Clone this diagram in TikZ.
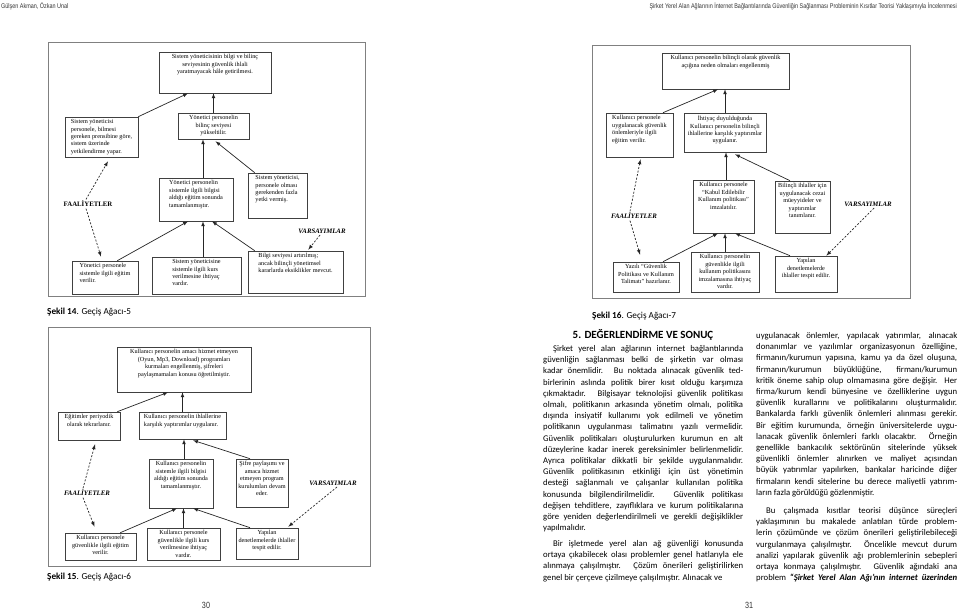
\documentclass[tikz,border=0pt]{standalone}
\usepackage{fontspec}
\setmainfont{Liberation Serif}
\newfontfamily\govde{Carlito}
\newfontfamily\dar[FakeStretch=0.8]{Liberation Sans}
\usetikzlibrary{positioning}

\definecolor{cizgi}{gray}{0.25}
\definecolor{cerceverengi}{gray}{0.5}

% kutu icindeki satirlar: ust hizali, ortali ya da sola dayali
\newcommand{\ortayazi}[2]{\vbox to #1pt{\let\\\cr\halign{\hfil##\hfil\cr#2\crcr}\vfil}}
\newcommand{\solyazi}[2]{\vbox to #1pt{\let\\\cr\halign{##\hfil\cr#2\crcr}\vfil}}

\tolerance=10000
\hyphenpenalty=10000

\tikzset{
  kutu/.style={draw=cizgi, line width=0.6pt, inner xsep=2pt, inner ysep=2.5pt,
    font=\fontsize{6.2}{7.4}\selectfont},
  ok/.style={-latex, line width=0.7pt, draw=black!85},
  kesik/.style={-latex, line width=0.7pt, draw=black!85, dash pattern=on 2pt off 1.6pt},
  cerceve/.style={draw=cerceverengi, line width=1pt},
  etiket/.style={inner sep=1.5pt, font=\fontsize{6.8}{8}\selectfont\bfseries},
  etiketi/.style={inner sep=1.5pt, font=\fontsize{6.8}{8}\selectfont\bfseries\itshape},
  altyazi/.style={anchor=west, inner sep=0pt, font=\govde\fontsize{9.2}{11}\selectfont},
  ustbilgi/.style={inner sep=0pt, font=\dar\fontsize{6.8}{8}\selectfont, text=black!80},
  govdemetin/.style={anchor=base west, inner sep=0pt, align=justify,
    font=\govde\fontsize{8.7}{11.2}\selectfont, text=black}
}

\begin{document}
\begin{tikzpicture}[x=1pt,y=-1pt]
\useasboundingbox (0,0) rectangle (960,609);
\fill[white] (0,0) rectangle (960,609);

% sayfa basliklari
\node[ustbilgi, anchor=west] (yazar) at (1,6) {Gülşen Akman, Özkan Unal};
\node[ustbilgi, anchor=east] (makale) at (957,6) {Şirket Yerel Alan Ağlarının İnternet Bağlantılarında Güvenliğin Sağlanması Probleminin Kısıtlar Teorisi Yaklaşımıyla İncelenmesi};

% Sekil 14
\draw[cerceve] (48,43) rectangle (365,297);
\node[kutu, minimum width=112] (a1) at (215,72.5) {\ortayazi{36}{Sistem yöneticisinin bilgi ve bilinç\\seviyesinin güvenlik ihlali\\yaratmayacak hâle getirilmesi.}};
\node[kutu, minimum width=73] (a2) at (101.5,137) {\solyazi{35}{Sistem yöneticisi\\personele, bilmesi\\gereken prensibine göre,\\sistem üzerinde\\yetkilendirme yapar.}};
\node[kutu, minimum width=71] (a3) at (213.5,126) {\ortayazi{21}{Yönetici personelin\\bilinç seviyesi\\yükseltilir.}};
\node[kutu, minimum width=74] (a4) at (196,199.5) {\solyazi{38}{Yönetici personelin\\sistemle ilgili bilgisi\\aldığı eğitim sonunda\\tamamlanmıştır.}};
\node[kutu, minimum width=59] (a5) at (277.5,195.5) {\solyazi{40}{Sistem yöneticisi,\\personele olması\\gerekenden fazla\\yetki vermiş.}};
\node[kutu, minimum width=66] (a6) at (105,277.5) {\solyazi{28}{Yönetici personele\\sistemle ilgili eğitim\\verilir.}};
\node[kutu, minimum width=89] (a7) at (196.5,275.5) {\solyazi{32}{Sistem yöneticisine\\sistemle ilgili kurs\\verilmesine ihtiyaç\\vardır.}};
\node[kutu, minimum width=95] (a8) at (295.5,272) {\solyazi{37}{Bilgi seviyesi artırılmış;\\ancak bilinçli yönetimsel\\kararlarda eksiklikler mevcut.}};
\node[etiket] (f1) at (88,204) {FAALİYETLER};
\node[etiketi] (v1) at (322,231) {VARSAYIMLAR};
\draw[ok] (a2.north east) -- ([xshift=-27]a1.south);
\draw[ok] (a3.north) -- (a3.north |- a1.south);
\draw[ok] ([xshift=7]a4.north) -- ([xshift=7]a4.north |- a3.south);
\draw[ok] ([xshift=7]a5.north west) -- ([xshift=2,yshift=-2]a3.south);
\draw[ok] ([xshift=-21]a6.north east) -- ([xshift=-8]a4.south);
\draw[ok] ([xshift=6.5]a7.north) -- ([xshift=6.5]a7.north |- a4.south);
\draw[ok] ([xshift=7]a8.north west) -- ([xshift=16]a4.south);
\draw[kesik] ([xshift=-2]f1.north) -- ([xshift=6.5,yshift=-4]a2.south);
\draw[kesik] ([xshift=-2]f1.south) -- ([xshift=-4,yshift=4]a6.north);
\draw[kesik] ([xshift=-2]v1.south) -- ([xshift=-35,yshift=1]a8.north east);
\node[altyazi] (sekil14) at (47,312) {\textbf{Şekil 14}. Geçiş Ağacı-5};

% Sekil 16
\draw[cerceve] (592,46) rectangle (910,299);
\node[kutu, minimum width=127] (b1) at (725.5,71) {\ortayazi{31}{Kullanıcı personelin bilinçli olarak güvenlik\\açığına neden olmaları engellenmiş}};
\node[kutu, minimum width=67] (b2) at (639.5,135) {\solyazi{39}{Kullanıcı personele\\uygulanacak güvenlik\\önlemleriyle ilgili\\eğitim verilir.}};
\node[kutu, minimum width=82] (b3) at (725,132.5) {\ortayazi{34}{İhtiyaç duyulduğunda\\Kullanıcı personelin bilinçli\\ihlallerine karşılık yaptırımlar\\uygulanır.}};
\node[kutu, minimum width=61] (b4) at (723.5,206.5) {\ortayazi{48}{Kullanıcı personele\\“Kabul Edilebilir\\Kullanım politikası”\\imzalatılır.}};
\node[kutu, minimum width=55] (b5) at (802.5,207) {\ortayazi{47}{Bilinçli ihlaller için\\uygulanacak cezai\\müeyyideler ve\\yaptırımlar\\tanımlanır.}};
\node[kutu, minimum width=66] (b6) at (646,277) {\ortayazi{25}{Yazılı “Güvenlik\\Politikası ve Kullanım\\Talimatı” hazırlanır.}};
\node[kutu, minimum width=68] (b7) at (725,272) {\ortayazi{35}{Kullanıcı personelin\\güvenlikle ilgili\\kullanım politikasını\\imzalamasına ihtiyaç\\vardır.}};
\node[kutu, minimum width=62] (b8) at (806,274) {\ortayazi{31}{Yapılan\\denetlemelerde\\ihlaller tespit edilir.}};
\node[etiketi] (f2) at (634,216) {FAALİYETLER};
\node[etiketi] (v2) at (868,204) {VARSAYIMLAR};
\draw[ok] ([xshift=23.5]b2.north) -- ([xshift=-7.5]b1.south);
\draw[ok] (b3.north) -- (b3.north |- b1.south);
\draw[ok] ([xshift=2.5]b4.north) -- ([xshift=2.5]b4.north |- b3.south);
\draw[ok] ([xshift=-12.5]b5.north) -- ([xshift=10,yshift=-2]b3.south);
\draw[ok] ([xshift=17]b6.north) -- ([xshift=-5.5]b4.south);
\draw[ok] (b7.north) -- (b7.north |- b4.south);
\draw[ok] ([xshift=-16]b8.north) -- ([xshift=11.5]b4.south);
\draw[kesik] ([xshift=-4]f2.north) -- ([xshift=1,yshift=-2]b2.south);
\draw[kesik] ([xshift=-4]f2.south) -- ([xshift=-6,yshift=7]b6.north);
\draw[kesik] ([xshift=6]v2.south) -- ([xshift=-11]b8.north east);
\node[altyazi] (sekil16) at (592,316) {\textbf{Şekil 16}. Geçiş Ağacı-7};

% Sekil 15
\draw[cerceve] (48,327) rectangle (370,566);
\node[kutu, minimum width=134] (c1) at (184,369.5) {\ortayazi{40}{Kullanıcı personelin amacı hizmet etmeyen\\(Oyun, Mp3, Download) programları\\kurmaları engellenmiş, şifreleri\\paylaşmamaları konusu öğretilmiştir.}};
\node[kutu, minimum width=62] (c2) at (89,426) {\ortayazi{23}{Eğitimler periyodik\\olarak tekrarlanır.}};
\node[kutu, minimum width=87] (c3) at (182.5,425.5) {\solyazi{22}{Kullanıcı personelin ihlallerine\\karşılık yaptırımlar uygulanır.}};
\node[kutu, minimum width=64] (c4) at (181,483.5) {\ortayazi{44}{Kullanıcı personelin\\sistemle ilgili bilgisi\\aldığı eğitim sonunda\\tamamlanmıştır.}};
\node[kutu, minimum width=52] (c5) at (262,483) {\ortayazi{43}{Şifre paylaşımı ve\\amaca hizmet\\etmeyen program\\kurulumları devam\\eder.}};
\node[kutu, minimum width=71] (c6) at (100.5,546.5) {\ortayazi{22}{Kullanıcı personele\\güvenlikle ilgili eğitim\\verilir.}};
\node[kutu, minimum width=73] (c7) at (183.5,544) {\ortayazi{27}{Kullanıcı personele\\güvenlikle ilgili kurs\\verilmesine ihtiyaç\\vardır.}};
\node[kutu, minimum width=62] (c8) at (267,543.5) {\ortayazi{26}{Yapılan\\denetlemelerde ihlaller\\tespit edilir.}};
\node[etiketi] (f3) at (87,493) {FAALİYETLER};
\node[etiketi] (v3) at (333,483) {VARSAYIMLAR};
\draw[ok] ([xshift=-3]c2.north east) -- ([xshift=-16]c1.south);
\draw[ok] (c3.north) -- (c3.north |- c1.south);
\draw[ok] ([xshift=3]c4.north) -- ([xshift=3]c4.north |- c3.south);
\draw[ok] ([xshift=-12]c5.north) -- ([xshift=10.5,yshift=-1]c3.south);
\draw[ok] ([xshift=-16]c6.north east) -- ([xshift=-4]c4.south);
\draw[ok] (c7.north) -- (c7.north |- c4.south);
\draw[ok] ([xshift=-17]c8.north) -- ([xshift=12]c4.south);
\draw[kesik] ([xshift=-4]f3.north) -- ([xshift=6,yshift=-4]c2.south);
\draw[kesik] ([xshift=-4]f3.south) -- ([xshift=-6,yshift=6]c6.north);
\draw[kesik] ([xshift=4]v3.south) -- ([xshift=-10,yshift=1]c8.north east);
\node[altyazi] (sekil15) at (47,577) {\textbf{Şekil 15}. Geçiş Ağacı-6};

% metin sutunlari
\node[font=\govde\bfseries\fontsize{11}{12}\selectfont] (bolum5) at (643,335) {5. DEĞERLENDİRME VE SONUÇ};
\node[govdemetin, text width=200pt] (p1) at (543,351.5) {\hspace*{10pt}Şirket yerel alan ağlarının internet bağlantılarında\linebreak güvenliğin sağlanması belki de şirketin var olması\linebreak kadar önemlidir. Bu noktada alınacak güvenlik ted-\linebreak birlerinin aslında politik birer kısıt olduğu karşımıza\linebreak çıkmaktadır. Bilgisayar teknolojisi güvenlik politikası\linebreak olmalı, politikanın arkasında yönetim olmalı, politika\linebreak dışında insiyatif kullanımı yok edilmeli ve yönetim\linebreak politikanın uygulanması talimatını yazılı vermelidir.\linebreak Güvenlik politikaları oluşturulurken kurumun en alt\linebreak düzeylerine kadar inerek gereksinimler belirlenmelidir.\linebreak Ayrıca politikalar dikkatli bir şekilde uygulanmalıdır.\linebreak Güvenlik politikasının etkinliği için üst yönetimin\linebreak desteği sağlanmalı ve çalışanlar kullanılan politika\linebreak konusunda bilgilendirilmelidir. Güvenlik politikası\linebreak değişen tehditlere, zayıflıklara ve kurum politikalarına\linebreak göre yeniden değerlendirilmeli ve gerekli değişiklikler\linebreak yapılmalıdır.};
\node[govdemetin, text width=200pt] (p2) at (543,546.5) {\parfillskip=0pt\hspace*{10pt}Bir işletmede yerel alan ağ güvenliği konusunda\linebreak ortaya çıkabilecek olası problemler genel hatlarıyla ele\linebreak alınmaya çalışılmıştır. Çözüm önerileri geliştirilirken\linebreak genel bir çerçeve çizilmeye çalışılmıştır. Alınacak ve};
\node[govdemetin, text width=201pt] (p3) at (756,338.5) {uygulanacak önlemler, yapılacak yatırımlar, alınacak\linebreak donanımlar ve yazılımlar organizasyonun özelliğine,\linebreak firmanın/kurumun yapısına, kamu ya da özel oluşuna,\linebreak firmanın/kurumun büyüklüğüne, firmanı/kurumun\linebreak kritik öneme sahip olup olmamasına göre değişir. Her\linebreak firma/kurum kendi bünyesine ve özelliklerine uygun\linebreak güvenlik kurallarını ve politikalarını oluşturmalıdır.\linebreak Bankalarda farklı güvenlik önlemleri alınması gerekir.\linebreak Bir eğitim kurumunda, örneğin üniversitelerde uygu-\linebreak lanacak güvenlik önlemleri farklı olacaktır. Örneğin\linebreak genellikle bankacılık sektörünün sitelerinde yüksek\linebreak güvenlikli önlemler alınırken ve maliyet açısından\linebreak büyük yatırımlar yapılırken, bankalar haricinde diğer\linebreak firmaların kendi sitelerine bu derece maliyetli yatırım-\linebreak ların fazla görüldüğü gözlenmiştir.};
\node[govdemetin, text width=201pt] (p4) at (756,513.5) {\hspace*{10pt}Bu çalışmada kısıtlar teorisi düşünce süreçleri\linebreak yaklaşımının bu makalede anlatılan türde problem-\linebreak lerin çözümünde ve çözüm önerileri geliştirilebileceği\linebreak vurgulanmaya çalışılmıştır. Öncelikle mevcut durum\linebreak analizi yapılarak güvenlik ağı problemlerinin sebepleri\linebreak ortaya konmaya çalışılmıştır. Güvenlik ağındaki ana\linebreak \makebox[\linewidth][s]{problem \textbf{\textit{“Şirket Yerel Alan Ağı’nın internet üzerinden}}}};

% sayfa numaralari
\node[ustbilgi, font=\dar\fontsize{9}{10}\selectfont] (no30) at (206,605) {30};
\node[ustbilgi, font=\dar\fontsize{9}{10}\selectfont] (no31) at (749,605) {31};
\end{tikzpicture}
\end{document}
